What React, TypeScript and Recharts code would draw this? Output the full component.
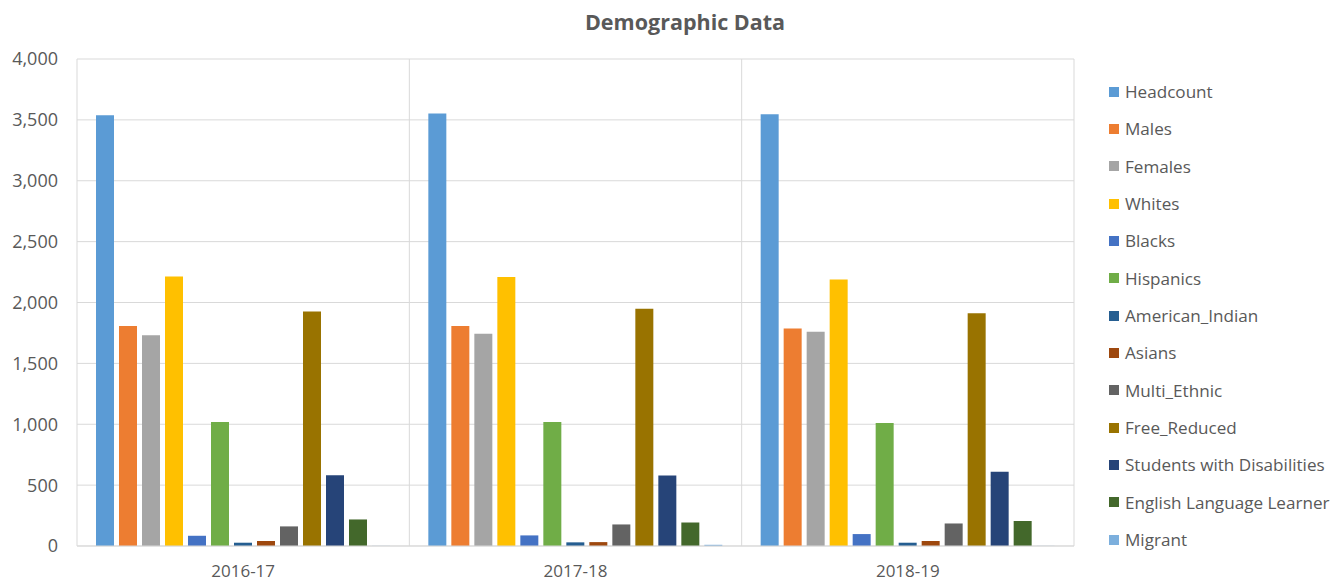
import React from 'react';
import { BarChart, Bar, XAxis, YAxis, CartesianGrid, Legend } from 'recharts';

const categories = ['2016-17', '2017-18', '2018-19'];
const seriesNames = [
  'Headcount', 'Males', 'Females', 'Whites', 'Blacks', 'Hispanics', 'American_Indian',
  'Asians', 'Multi_Ethnic', 'Free_Reduced', 'Students with Disabilities', 'English Language Learner', 'Migrant',
];
const headcount = [3538, 3552, 3546];
const males = [1806, 1806, 1787];
const females = [1732, 1743, 1759];
const whites = [2214, 2210, 2188];
const blacks = [84, 87, 98];
const hispanics = [1019, 1019, 1011];
const americanIndian = [27, 30, 27];
const asians = [41, 32, 41];
const multiEthnic = [161, 177, 185];
const freeReduced = [1926, 1948, 1912];
const disabilities = [582, 579, 609];
const ell = [218, 193, 205];
const migrant = [1, 10, 1];
const yTicks = [0, 500, 1000, 1500, 2000, 2500, 3000, 3500, 4000];

const seriesValues = [headcount, males, females, whites, blacks, hispanics, americanIndian, asians, multiEthnic, freeReduced, disabilities, ell, migrant];
const colors = ['#5B9BD5', '#ED7D31', '#A5A5A5', '#FFC000', '#4472C4', '#70AD47', '#255E91', '#9E480E', '#636363', '#997300', '#264478', '#43682B', '#7CAFDD'];

const data = categories.map((c, i) => {
  const row: any = { name: c };
  seriesNames.forEach((s, k) => { row[s] = seriesValues[k][i]; });
  return row;
});

const FONT = '"Open Sans", sans-serif';
const TEXT = '#595959';
const LEGEND_W = 224;

const LegendContent = () => (
  <div style={{ fontFamily: FONT }}>
    {seriesNames.map((s, i) => (
      <div key={s} style={{ display: 'flex', alignItems: 'center', height: 37.33 }}>
        <span style={{ width: 10, height: 10, background: colors[i], display: 'inline-block', marginRight: 6, flex: 'none' }} />
        <span style={{ fontSize: 17.1, color: TEXT, whiteSpace: 'nowrap' }}>{s}</span>
      </div>
    ))}
  </div>
);

export default function App() {
  return (
    <div style={{ position: 'absolute', left: 0, top: 0, width: 1333, height: 581, background: '#fff', overflow: 'hidden' }}>
      <div style={{ position: 'absolute', left: 0, width: 1370, top: 7, textAlign: 'center', fontFamily: FONT, fontWeight: 700, fontSize: 21.5, color: TEXT }}>
        Demographic Data
      </div>
      <BarChart
        width={1333}
        height={581}
        data={data}
        margin={{ top: 59, right: 259 - LEGEND_W, bottom: 0, left: 0 }}
        barCategoryGap={19}
        barGap={5}
      >
        <CartesianGrid
          stroke="#D9D9D9"
          strokeWidth={1}
          verticalCoordinatesGenerator={({ offset }: any) => [0, 1, 2, 3].map((i) => offset.left + (offset.width * i) / 3)}
        />
        <XAxis dataKey="name" axisLine={{ stroke: '#D9D9D9' }} tickLine={false} height={35} tickMargin={13}
          tick={{ fill: TEXT, fontSize: 17, fontFamily: FONT }} />
        <YAxis width={77} domain={[0, 4000]} ticks={yTicks} axisLine={false} tickLine={false} tickMargin={13}
          tickFormatter={(v: number) => v.toLocaleString('en-US')}
          tick={{ fill: TEXT, fontSize: 18, fontFamily: FONT }} />
        <Legend layout="vertical" align="right" verticalAlign="top" content={<LegendContent />}
          wrapperStyle={{ left: 1109, top: 73, width: LEGEND_W }} />
        {seriesNames.map((s, i) => (
          <Bar key={s} dataKey={s} fill={colors[i]} isAnimationActive={false} />
        ))}
      </BarChart>
    </div>
  );
}
